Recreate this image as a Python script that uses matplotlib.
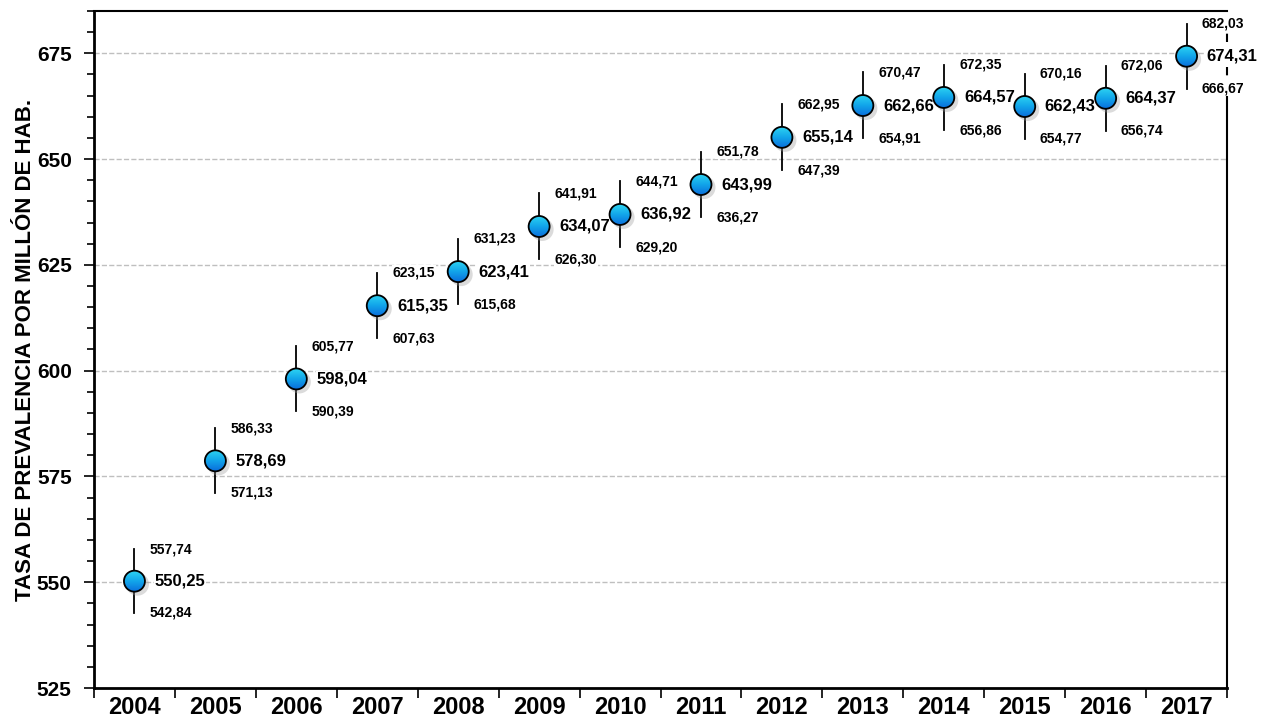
import numpy as np
import matplotlib.pyplot as plt
from matplotlib.ticker import MultipleLocator
from matplotlib.patches import Ellipse
from matplotlib.colors import LinearSegmentedColormap

plt.rcParams['font.family'] = ['Liberation Sans', 'DejaVu Sans']

years = ['2004', '2005', '2006', '2007', '2008', '2009', '2010',
         '2011', '2012', '2013', '2014', '2015', '2016', '2017']
tasa = [550.25, 578.69, 598.04, 615.35, 623.41, 634.07, 636.92,
        643.99, 655.14, 662.66, 664.57, 662.43, 664.37, 674.31]
ic_inf = [542.84, 571.13, 590.39, 607.63, 615.68, 626.30, 629.20,
          636.27, 647.39, 654.91, 656.86, 654.77, 656.74, 666.67]
ic_sup = [557.74, 586.33, 605.77, 623.15, 631.23, 641.91, 644.71,
          651.78, 662.95, 670.47, 672.35, 670.16, 672.06, 682.03]

def fmt(v):
    return f'{v:.2f}'.replace('.', ',')

fig = plt.figure(figsize=(12.65, 7.23), dpi=100)
ax = fig.add_axes([0.0743, 0.0484, 0.8957, 0.9364])
ax.set_xlim(-0.5, len(years) - 0.5)
ax.set_ylim(525, 685)

# tamaño de un pixel en unidades de datos (para que los circulos sean redondos)
bb = ax.get_window_extent()
px_x = (len(years)) / bb.width
px_y = (685 - 525) / bb.height
r = 10.5  # radio en px

cmap = LinearSegmentedColormap.from_list('bola', ['#0a6fdc', '#12a6ea', '#2fd6f2'])
grad = np.linspace(0, 1, 64).reshape(-1, 1)
fondo = dict(fc='white', ec='none', pad=0.6)

x = list(range(len(years)))
for i in x:
    ax.plot([i, i], [ic_inf[i], ic_sup[i]], color='black', lw=1.3, zorder=3)
    # sombra
    sh = Ellipse((i + 3 * px_x, tasa[i] - 3 * px_y), 2 * (r + 1) * px_x, 2 * (r + 1) * px_y,
                 color='#999999', alpha=0.35, lw=0, zorder=5.4)
    ax.add_patch(sh)
    circ = Ellipse((i, tasa[i]), 2 * r * px_x, 2 * r * px_y, facecolor='none',
                   edgecolor='black', lw=1.3, zorder=6.1)
    ax.add_patch(circ)
    im = ax.imshow(grad, cmap=cmap, origin='lower', aspect='auto',
                   extent=(i - r * px_x, i + r * px_x, tasa[i] - r * px_y, tasa[i] + r * px_y),
                   zorder=6)
    im.set_clip_path(circ)

    ax.annotate(fmt(tasa[i]), (i, tasa[i]), xytext=(14.5, 0), textcoords='offset points',
                fontsize=12, fontweight='bold', va='center', ha='left', zorder=5,
                bbox=fondo)
    ax.annotate(fmt(ic_sup[i]), (i, ic_sup[i]), xytext=(11, 0), textcoords='offset points',
                fontsize=10, fontweight='bold', va='center', ha='left', zorder=5,
                bbox=fondo)
    ax.annotate(fmt(ic_inf[i]), (i, ic_inf[i]), xytext=(11, 0), textcoords='offset points',
                fontsize=10, fontweight='bold', va='center', ha='left', zorder=5,
                bbox=fondo)

ax.set_xlim(-0.5, len(years) - 0.5)
ax.set_ylim(525, 685)
ax.yaxis.set_major_locator(MultipleLocator(25))
ax.yaxis.set_minor_locator(MultipleLocator(5))
ax.set_xticks([i - 0.5 for i in range(len(years) + 1)])
ax.set_xticklabels([])
ax.set_xticks(x, minor=True)
ax.set_xticklabels(years, minor=True, fontsize=17, fontweight='bold')
ax.tick_params(axis='x', which='minor', length=0, pad=6)
ax.tick_params(axis='x', which='major', length=7, width=1.2, direction='out')
ax.tick_params(axis='y', which='major', length=7, width=1.2, labelsize=15, pad=9)
ax.tick_params(axis='y', which='minor', length=5, width=1.2)
for lab in ax.get_yticklabels():
    lab.set_fontweight('bold')

ax.grid(axis='y', which='major', linestyle='--', color='#bfbfbf', lw=1)
ax.set_axisbelow(True)
for s in ax.spines.values():
    s.set_linewidth(1.5)
ax.spines['left'].set_linewidth(2)
ax.spines['bottom'].set_linewidth(2)
# borde derecho: discontinuo arriba, continuo abajo
ax.spines['right'].set_visible(False)
ax.axvline(len(years) - 0.5, ymin=0, ymax=0.88, color='black', lw=1.5, clip_on=False)
ax.axvline(len(years) - 0.5, ymin=0.88, ymax=1, color='black', lw=1.5, ls=(0, (4, 4)),
           clip_on=False)

ax.set_ylabel('TASA DE PREVALENCIA POR MILLÓN DE HAB.', fontsize=16,
              fontweight='bold', labelpad=1)

fig.savefig('out.png', dpi=100)
